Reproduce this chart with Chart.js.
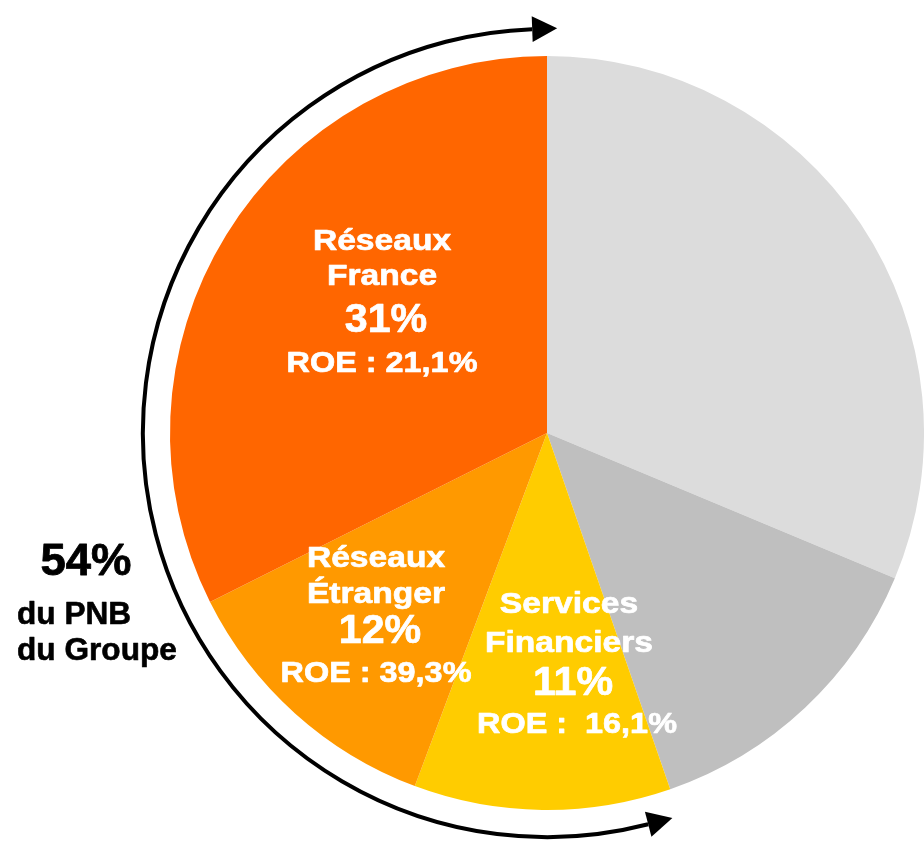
<!DOCTYPE html>
<html>
<head>
<meta charset="utf-8">
<script src="https://cdn.jsdelivr.net/npm/chart.js@4.4.1/dist/chart.umd.min.js"></script>
<style>
  html, body { margin: 0; padding: 0; background: #fff; }
  #wrap { width: 924px; height: 842px; position: relative; }
</style>
</head>
<body>
<div id="wrap"><canvas id="pnbChart" width="924" height="842"></canvas></div>
<script>
// ==================== DATA =====================
// slices clockwise from 12 o'clock (share of the drawn pie, %)
const segments = ["Autres 1", "Autres 2", "Services Financiers", "Réseaux Étranger", "Réseaux France"];
const shares = [31.3, 13.4, 11.0, 11.9, 32.4];
const colors = ["#dcdcdc", "#bfbfbf", "#ffcc00", "#ff9900", "#ff6600"];

// slice labels (index into segments)
const labelSlices = [4, 3, 2];
const labelNames = [["Réseaux", "France"], ["Réseaux", "Étranger"], ["Services", "Financiers"]];
const labelPcts = ["31%", "12%", "11%"];
const labelRoe = ["ROE : 21,1%", "ROE : 39,3%", "ROE :  16,1%"];

// side note
const totalPct = "54%";
const totalText = ["du PNB", "du Groupe"];

// ============== LAYOUT (px, relative to pie centre) ===============
const labelPos = [
  { dx: -165, ys: [-183, -148, -101, -61] },
  { dx: -171, ys: [134, 170, 210, 249] },
  { dx: 22, ys: [180, 219, 262, 300] },
];
const FONT = "'Liberation Sans', Arial, sans-serif";

function stretchText(ctx, txt, x, y, size, sx, heavy) {
  ctx.save();
  ctx.font = "bold " + size + "px " + FONT;
  ctx.translate(x, y);
  ctx.scale(sx, 1);
  ctx.fillText(txt, 0, 0);
  if (heavy) {
    // reference glyphs are a bit heavier than Liberation bold
    ctx.lineWidth = heavy;
    ctx.strokeStyle = ctx.fillStyle;
    ctx.lineJoin = "round";
    ctx.strokeText(txt, 0, 0);
  }
  ctx.restore();
}

// arrow arc around the three orange slices
function drawArrowArc(ctx, cx, cy, r) {
  const toRad = (clockDeg) => ((clockDeg - 90) * Math.PI) / 180;
  const a0 = toRad(165.5);
  const a1 = toRad(357.9);
  ctx.save();
  ctx.strokeStyle = "#000";
  ctx.lineWidth = 4;
  ctx.beginPath();
  ctx.arc(cx, cy, r, a0, a1, false);
  ctx.stroke();

  function head(a, dir) {
    const px = cx + r * Math.cos(a);
    const py = cy + r * Math.sin(a);
    // tangent (direction of travel) and normal
    const tx = -Math.sin(a) * dir;
    const ty = Math.cos(a) * dir;
    const nx = Math.cos(a);
    const ny = Math.sin(a);
    const len = 25, half = 13;
    ctx.beginPath();
    ctx.moveTo(px + tx * len, py + ty * len);
    ctx.lineTo(px + nx * half, py + ny * half);
    ctx.lineTo(px - nx * half, py - ny * half);
    ctx.closePath();
    ctx.fillStyle = "#000";
    ctx.fill();
  }
  head(a1, 1);
  head(a0, -1);
  ctx.restore();
}

const labelPlugin = {
  id: "pnbLabels",
  afterDraw(chart) {
    const ctx = chart.ctx;
    const arc0 = chart.getDatasetMeta(0).data[0];
    const cx = arc0.x, cy = arc0.y, r = arc0.outerRadius;

    drawArrowArc(ctx, cx, cy, r * 1.072);

    ctx.save();
    ctx.textAlign = "center";
    ctx.textBaseline = "alphabetic";
    ctx.fillStyle = "#fff";
    labelSlices.forEach((s, i) => {
      const p = labelPos[i];
      const x = cx + p.dx;
      stretchText(ctx, labelNames[i][0], x, cy + p.ys[0], 30, 1.12, 0.7);
      stretchText(ctx, labelNames[i][1], x, cy + p.ys[1], 30, 1.12, 0.7);
      stretchText(ctx, labelPcts[i], x + 4, cy + p.ys[2], 40, 1.03, 0.7);
      stretchText(ctx, labelRoe[i], x + (i === 2 ? 8 : 0), cy + p.ys[3], 30, 1.08, 0.7);
    });

    ctx.fillStyle = "#000";
    stretchText(ctx, totalPct, 86, 575, 45, 1.01, 0.8);
    ctx.textAlign = "left";
    stretchText(ctx, totalText[0], 17, 624, 31, 1.02, 0.6);
    stretchText(ctx, totalText[1], 17, 660, 31, 1.02, 0.6);
    ctx.restore();
  },
};

new Chart(document.getElementById("pnbChart"), {
  type: "pie",
  data: {
    labels: segments,
    datasets: [
      {
        data: shares,
        backgroundColor: colors,
        borderWidth: 0,
        hoverOffset: 0,
      },
    ],
  },
  options: {
    responsive: false,
    animation: false,
    rotation: 0,
    layout: { padding: { left: 170, right: 0, top: 56, bottom: 32 } },
    plugins: {
      legend: { display: false },
      tooltip: { enabled: false },
    },
  },
  plugins: [labelPlugin],
});
</script>
</body>
</html>
